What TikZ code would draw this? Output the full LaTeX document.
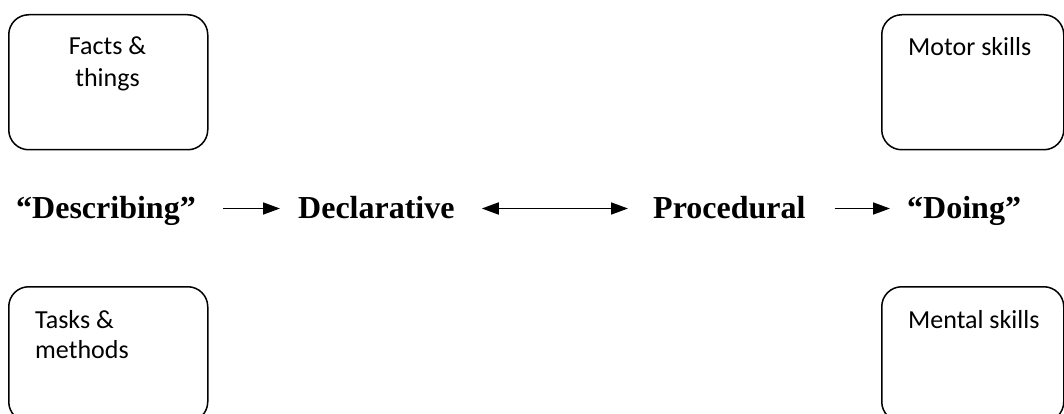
\documentclass[tikz,border=0pt]{standalone}
\usepackage{fontspec}
\setmainfont{Liberation Serif}
\newfontfamily\boxfont{Carlito}
\usetikzlibrary{arrows.meta}
\tikzset{
  box/.style={draw, line width=1.5pt, rounded corners=20pt, anchor=north west, inner sep=0pt},
  boxtext/.style={font=\boxfont\fontsize{26}{32}\selectfont, inner sep=0pt},
  term/.style={font=\bfseries\fontsize{32}{38}\selectfont, inner sep=0pt, anchor=base west, text height=23pt, text depth=4pt},
  tip/.style={Triangle[length=17pt,width=12pt]},
  arr/.style={line width=1.7pt, -{Triangle[length=17pt,width=12pt]}},
  dblarr/.style={line width=1.7pt, {Triangle[length=17pt,width=12pt]}-{Triangle[length=17pt,width=12pt]}}
}
\begin{document}
\begin{tikzpicture}[x=1pt,y=-1pt]
\useasboundingbox (0,0) rectangle (1064,414);
% boxes
\node[box, minimum width=199pt, minimum height=135pt] (facts) at (8,14) {};
\node[box, minimum width=182pt, minimum height=135pt] (motor) at (881,14) {};
\node[box, minimum width=199pt, minimum height=135pt] (tasks) at (8,286) {};
\node[box, minimum width=182pt, minimum height=135pt] (mental) at (881,286) {};
% box texts
\node[boxtext, anchor=base] (facts1) at (107.5,55) {Facts \&};
\node[boxtext, anchor=base] (facts2) at (107.5,87) {things};
\node[boxtext, anchor=base west] (motor1) at (908,56) {Motor skills};
\node[boxtext, anchor=base west] (tasks1) at (35,328) {Tasks \&};
\node[boxtext, anchor=base west] (tasks2) at (35,358) {methods};
\node[boxtext, anchor=base west] (mental1) at (908,328) {Mental skills};
% main row
\node[term] (describing) at (16,218) {“Describing”};
\node[term] (declarative) at (298,218) {Declarative};
\node[term] (procedural) at (653,218) {Procedural};
\node[term] (doing) at (907,218) {“Doing”};
% arrows
\draw[arr, shorten <=27pt, shorten >=18pt] (describing.east) -- (declarative.west);
\draw[dblarr, shorten <=27pt, shorten >=25pt] (declarative.east) -- (procedural.west);
\draw[arr, shorten <=29pt, shorten >=17pt] (procedural.east) -- (doing.west);
\end{tikzpicture}
\end{document}
